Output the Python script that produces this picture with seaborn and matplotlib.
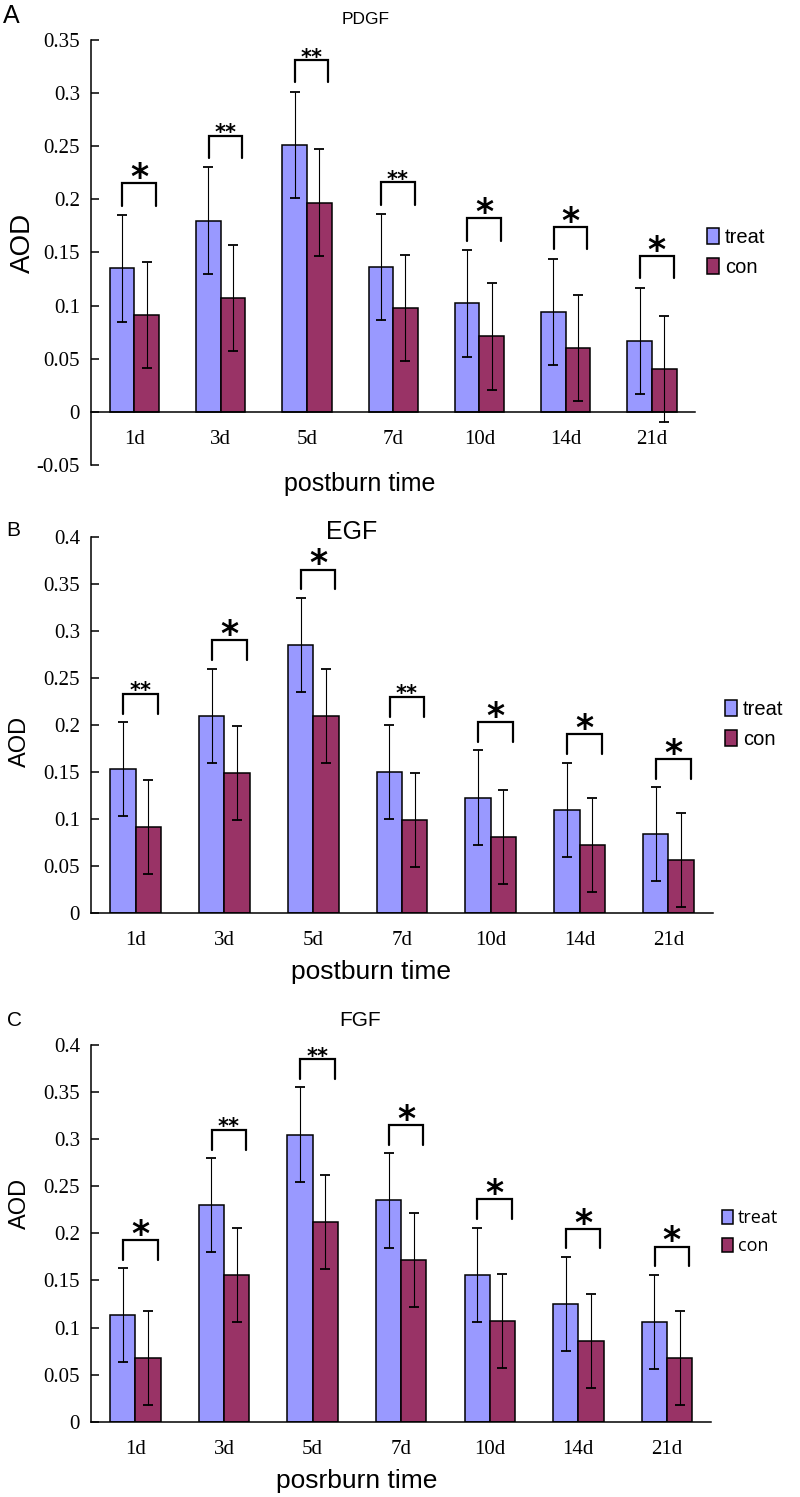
import numpy as np
import pandas as pd
import matplotlib
matplotlib.use('Agg')
import matplotlib.pyplot as plt
from matplotlib.patches import Patch
import seaborn as sns

# categories and groups
days = ['1d', '3d', '5d', '7d', '10d', '14d', '21d']
groups = ['treat', 'con']

# A - PDGF
pdgf_treat = [0.135, 0.180, 0.251, 0.136, 0.102, 0.094, 0.067]
pdgf_con = [0.091, 0.107, 0.197, 0.098, 0.071, 0.060, 0.040]
pdgf_treat_err = [0.05, 0.05, 0.05, 0.05, 0.05, 0.05, 0.05]
pdgf_con_err = [0.05, 0.05, 0.05, 0.05, 0.05, 0.05, 0.05]
pdgf_sig = ['*', '**', '**', '**', '*', '*', '*']

# B - EGF
egf_treat = [0.153, 0.210, 0.285, 0.150, 0.123, 0.110, 0.084]
egf_con = [0.092, 0.149, 0.210, 0.099, 0.081, 0.073, 0.057]
egf_treat_err = [0.05, 0.05, 0.05, 0.05, 0.05, 0.05, 0.05]
egf_con_err = [0.05, 0.05, 0.05, 0.05, 0.05, 0.05, 0.05]
egf_sig = ['**', '*', '*', '**', '*', '*', '*']

# C - FGF
fgf_treat = [0.113, 0.230, 0.305, 0.235, 0.156, 0.125, 0.106]
fgf_con = [0.068, 0.156, 0.212, 0.172, 0.107, 0.086, 0.068]
fgf_treat_err = [0.05, 0.05, 0.05, 0.05, 0.05, 0.05, 0.05]
fgf_con_err = [0.05, 0.05, 0.05, 0.05, 0.05, 0.05, 0.05]
fgf_sig = ['*', '**', '**', '*', '*', '*', '*']

pdgf_yticks = [-0.05, 0, 0.05, 0.1, 0.15, 0.2, 0.25, 0.3, 0.35]
gf_yticks = [0, 0.05, 0.1, 0.15, 0.2, 0.25, 0.3, 0.35, 0.4]

colors = {'treat': '#9999FF', 'con': '#993366'}

sns.set_style('white')
plt.rcParams['font.family'] = ['Liberation Sans', 'DejaVu Sans']
plt.rcParams['text.color'] = 'black'
plt.rcParams['axes.labelcolor'] = 'black'
plt.rcParams['xtick.color'] = 'black'
plt.rcParams['ytick.color'] = 'black'

W, H = 800, 1497
fig = plt.figure(figsize=(W / 100, H / 100), dpi=100)


def fx(x):
    return x / W


def fy(y):
    return 1 - y / H


def panel(rect, treat, con, terr, cerr, sig, yticks, legend_xy, legend_font):
    ax = fig.add_axes(rect)
    df = pd.DataFrame({
        'day': days * 2,
        'group': ['treat'] * len(days) + ['con'] * len(days),
        'AOD': treat + con,
    })
    sns.barplot(data=df, x='day', y='AOD', hue='group', hue_order=groups,
                order=days, palette=colors, width=0.57, errorbar=None,
                saturation=1, edgecolor='black', linewidth=1.1, ax=ax,
                legend=False)
    # error bars on bar centres
    for cont, err in zip(ax.containers, [terr, cerr]):
        xs = [b.get_x() + b.get_width() / 2 for b in cont]
        hs = [b.get_height() for b in cont]
        ax.errorbar(xs, hs, yerr=err, fmt='none', ecolor='black',
                    elinewidth=0.8, capsize=3.5, capthick=1.3, zorder=5)
    # significance brackets
    for i, s in enumerate(sig):
        top = treat[i] + terr[i] + 0.03
        x0, x1 = i - 0.14, i + 0.25
        ax.plot([x0, x0, x1, x1], [top - 0.021, top, top, top - 0.021],
                color='black', lw=1.6, solid_joinstyle='miter', zorder=6)
        if s == '*':
            ax.annotate(s, (i + 0.055, top), xytext=(0, -3.5),
                        textcoords='offset points', ha='center', va='baseline',
                        fontsize=25, fontweight='bold', family='DejaVu Sans',
                        color='black')
        else:
            ax.annotate(s, (i + 0.055, top), xytext=(0, -2.5),
                        textcoords='offset points', ha='center', va='baseline',
                        fontsize=15, fontweight='bold', family='DejaVu Sans',
                        color='black')

    for sp in ['top', 'right']:
        ax.spines[sp].set_visible(False)
    for sp in ['left', 'bottom']:
        ax.spines[sp].set_color('black')
        ax.spines[sp].set_linewidth(1.1)
    ax.spines['bottom'].set_position(('data', 0))

    ax.set_xlim(-0.5, len(days) - 0.5)
    ax.set_ylim(yticks[0], yticks[-1])
    ax.set_yticks(yticks)
    ax.set_yticklabels([f'{v:g}' for v in yticks])
    ax.set_xticks(range(len(days)))
    ax.set_xticklabels(days)
    ax.set_xticks(np.arange(0.5, len(days), 1.0), minor=True)
    ax.tick_params(axis='both', which='major', labelsize=15,
                   labelfontfamily='Liberation Serif', labelcolor='black')
    ax.tick_params(axis='x', which='major', length=0, pad=13)
    ax.tick_params(axis='x', which='minor', direction='in', length=6,
                   width=1.1, color='black')
    ax.tick_params(axis='y', direction='in', length=6, width=1.1,
                   color='black', pad=8, left=True)
    ax.set_xlabel('')
    ax.set_ylabel('')

    handles = [Patch(facecolor=colors[g], edgecolor='black', linewidth=1.1)
               for g in groups]
    ax.legend(handles, groups, loc='center left',
              bbox_to_anchor=(fx(legend_xy[0]), fy(legend_xy[1])),
              bbox_transform=fig.transFigure, frameon=False,
              borderaxespad=0, borderpad=0, handlelength=0.6,
              handleheight=0.85, handletextpad=0.3, labelspacing=0.55,
              prop=legend_font, labelcolor='black')
    return ax


ax_a = panel([0.114, 0.6894, 0.755, 0.2839], pdgf_treat, pdgf_con,
             pdgf_treat_err, pdgf_con_err, pdgf_sig, pdgf_yticks,
             (707, 252.5), {'family': 'Liberation Sans', 'size': 14.5})
ax_b = panel([0.114, 0.3899, 0.777, 0.2516], egf_treat, egf_con,
             egf_treat_err, egf_con_err, egf_sig, gf_yticks,
             (725, 724.5), {'family': 'Liberation Sans', 'size': 14.5})
ax_c = panel([0.114, 0.0503, 0.775, 0.2516], fgf_treat, fgf_con,
             fgf_treat_err, fgf_con_err, fgf_sig, gf_yticks,
             (722, 1232), {'family': 'Open Sans', 'size': 13})

# panel letters, titles and axis labels
fig.text(fx(3), fy(16), 'A', fontsize=18, ha='left', va='center')
fig.text(fx(6), fy(530), 'B', fontsize=15, ha='left', va='center')
fig.text(fx(7), fy(1020), 'C', fontsize=15, ha='left', va='center')

fig.text(fx(366), fy(20), 'PDGF', fontsize=12.5, ha='center', va='center')
fig.text(fx(352), fy(532), 'EGF', fontsize=18, ha='center', va='center')
fig.text(fx(360), fy(1021), 'FGF', fontsize=15, ha='center', va='center')

fig.text(fx(23), fy(243), 'AOD', fontsize=20, rotation=90, ha='center', va='center')
fig.text(fx(20), fy(741), 'AOD', fontsize=17, rotation=90, ha='center', va='center')
fig.text(fx(20), fy(1203), 'AOD', fontsize=17, rotation=90, ha='center', va='center')

fig.text(fx(360), fy(484), 'postburn time', fontsize=18, ha='center', va='center')
fig.text(fx(371), fy(972), 'postburn time', fontsize=19, ha='center', va='center')
fig.text(fx(357), fy(1481), 'posrburn time', fontsize=19, ha='center', va='center')

fig.savefig('out.png', dpi=100, facecolor='w')
